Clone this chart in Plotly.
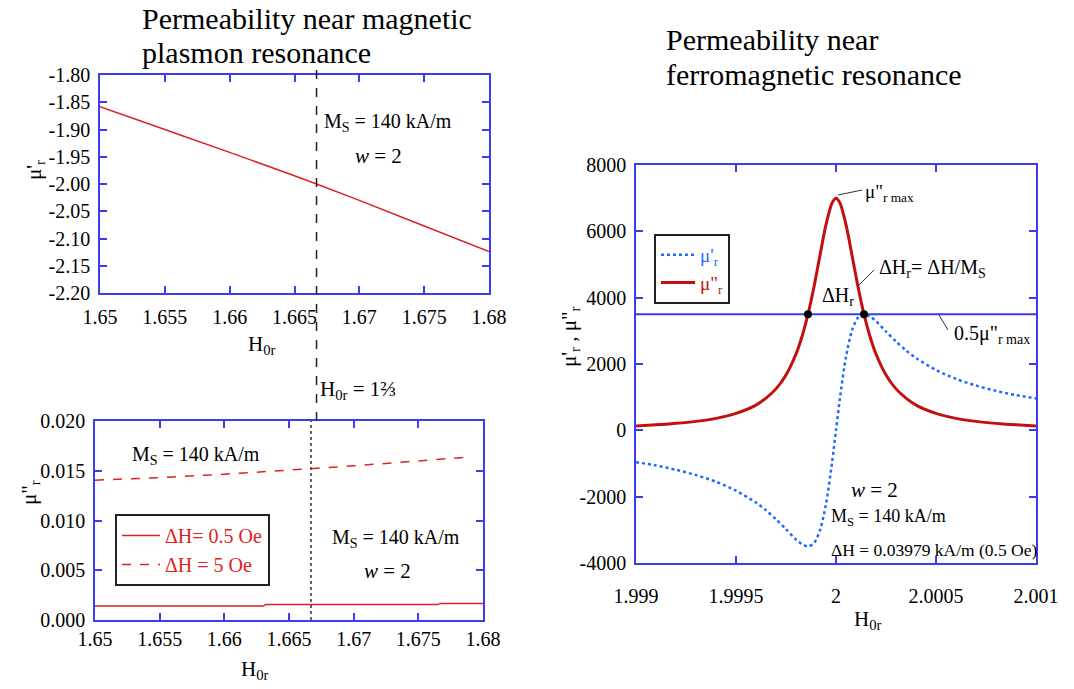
import plotly.graph_objects as go

FONT = "Liberation Serif, Times New Roman, serif"
BLUE = "#3b3bf2"
RED = "#dd2222"
DARKRED = "#c40f0f"
DOTBLUE = "#1f6bff"

# ---------------- data: magnetic plasmon resonance (top-left) ----------------
H_mp = [1.65, 1.655, 1.66, 1.665, 1.6667, 1.67, 1.675, 1.68]
mu_real_mp = [-1.858, -1.900, -1.942, -1.985, -2.000, -2.030, -2.077, -2.124]

# ---------------- data: loss near plasmon resonance (bottom-left) -------------
H_loss5 = [1.65, 1.655, 1.66, 1.665, 1.6667, 1.67, 1.675, 1.679]
mu_imag_5Oe = [0.01405, 0.01431, 0.01465, 0.01505, 0.01522, 0.01549, 0.01599, 0.01639]
H_loss05 = [1.65, 1.663, 1.6632, 1.6765, 1.6767, 1.68]
mu_imag_05Oe = [0.00140, 0.00140, 0.00155, 0.00155, 0.00167, 0.00167]
H0r_res = 1.6667

# ---------------- data: ferromagnetic resonance (right) ----------------------
H_fmr = [1.9990, 1.9991, 1.9992, 1.9993, 1.9994, 1.9995, 1.9996, 1.99965, 1.9997,
         1.99975, 1.9998, 1.99983, 1.99986, 1.99989, 1.99992, 1.99995, 1.99998, 2.0,
         2.00002, 2.00005, 2.00008, 2.00011, 2.00014, 2.00017, 2.0002, 2.00025,
         2.0003, 2.00035, 2.0004, 2.0005, 2.0006, 2.0007, 2.0008, 2.0009, 2.0010]
mu_imag_fmr = [130, 165, 210, 270, 360, 510, 760, 970, 1250, 1670, 2300, 2830, 3500,
               4330, 5280, 6200, 6850, 7000, 6850, 6200, 5280, 4330, 3500, 2830, 2300,
               1670, 1250, 970, 760, 510, 360, 270, 210, 165, 130]
mu_real_fmr = [-960, -1060, -1190, -1350, -1550, -1820, -2180, -2410, -2680, -2980,
               -3290, -3430, -3500, -3400, -3010, -2220, -980, 0, 980, 2220, 3010, 3400,
               3500, 3430, 3290, 2980, 2680, 2410, 2180, 1820, 1550, 1350, 1190, 1060, 960]
H_half = [1.99986, 2.00014]
mu_half = [3500, 3500]
H_span = [1.999, 2.001]

# tick labels
x_mp_ticks = [1.65, 1.655, 1.66, 1.665, 1.67, 1.675, 1.68]
x_mp_text = ["1.65", "1.655", "1.66", "1.665", "1.67", "1.675", "1.68"]
y_mp_ticks = [-2.20, -2.15, -2.10, -2.05, -2.00, -1.95, -1.90, -1.85, -1.80]
y_mp_text = ["-2.20", "-2.15", "-2.10", "-2.05", "-2.00", "-1.95", "-1.90", "-1.85", "-1.80"]
y_loss_ticks = [0.0, 0.005, 0.010, 0.015, 0.020]
y_loss_text = ["0.000", "0.005", "0.010", "0.015", "0.020"]
x_fmr_ticks = [1.999, 1.9995, 2.0, 2.0005, 2.001]
x_fmr_text = ["1.999", "1.9995", "2", "2.0005", "2.001"]
y_fmr_ticks = [-4000, -2000, 0, 2000, 4000, 6000, 8000]
y_fmr_text = ["-4000", "-2000", "0", "2000", "4000", "6000", "8000"]

W, H = 1074, 689
def px(x):
    return x / W
def py(y):
    return 1 - y / H

fig = go.Figure()

fig.add_trace(go.Scatter(x=H_mp, y=mu_real_mp, mode="lines", xaxis="x", yaxis="y",
                         line=dict(color=RED, width=1.5, shape="spline"), showlegend=False))

fig.add_trace(go.Scatter(x=H_loss05, y=mu_imag_05Oe, mode="lines", xaxis="x2", yaxis="y2",
                         name="ΔH= 0.5 Oe", line=dict(color=RED, width=1.5), legend="legend"))
fig.add_trace(go.Scatter(x=H_loss5, y=mu_imag_5Oe, mode="lines", xaxis="x2", yaxis="y2",
                         name="ΔH = 5 Oe", line=dict(color=RED, width=1.5, dash="dash"),
                         legend="legend"))

fig.add_trace(go.Scatter(x=H_span, y=mu_half, mode="lines", xaxis="x3", yaxis="y3",
                         line=dict(color=BLUE, width=2), showlegend=False))
fig.add_trace(go.Scatter(x=H_fmr, y=mu_real_fmr, mode="lines", xaxis="x3", yaxis="y3",
                         name=f"<span style='color:{DOTBLUE}'>μ'<sub>r</sub></span>",
                         line=dict(color=DOTBLUE, width=2.5, dash="dot", shape="spline", smoothing=0.8),
                         legend="legend2"))
fig.add_trace(go.Scatter(x=H_fmr, y=mu_imag_fmr, mode="lines", xaxis="x3", yaxis="y3",
                         name=f"<span style='color:{DARKRED}'>μ\"<sub>r</sub></span>",
                         line=dict(color=DARKRED, width=3, shape="spline", smoothing=0.8),
                         legend="legend2"))
fig.add_trace(go.Scatter(x=H_half, y=mu_half, mode="markers", xaxis="x3", yaxis="y3",
                         marker=dict(color="black", size=8), showlegend=False))

axis_common = dict(showgrid=False, zeroline=False, showline=True, linecolor=BLUE,
                   linewidth=1.5, mirror="ticks", ticks="inside", ticklen=7,
                   tickwidth=1.5, tickcolor=BLUE, automargin=False,
                   tickfont=dict(family=FONT, size=20, color="black"))

fig.update_layout(
    width=W, height=H, margin=dict(l=0, r=0, t=0, b=0, pad=0),
    paper_bgcolor="white", plot_bgcolor="white",
    font=dict(family=FONT, size=18, color="black"),
    xaxis=dict(axis_common, domain=[px(100), px(489)], anchor="y", range=[1.65, 1.68],
               tickvals=x_mp_ticks, ticktext=x_mp_text, ticklabelstandoff=5),
    yaxis=dict(axis_common, domain=[py(293), py(75)], anchor="x", range=[-2.20, -1.80],
               tickvals=y_mp_ticks, ticktext=y_mp_text, ticklabelstandoff=4),
    xaxis2=dict(axis_common, domain=[px(95), px(483)], anchor="y2", range=[1.65, 1.68],
                tickvals=x_mp_ticks, ticktext=x_mp_text, ticklabelstandoff=0),
    yaxis2=dict(axis_common, domain=[py(620), py(421)], anchor="x2", range=[0, 0.020],
                tickvals=y_loss_ticks, ticktext=y_loss_text, ticklabelstandoff=4),
    xaxis3=dict(axis_common, domain=[px(636), px(1036)], anchor="y3", range=[1.999, 2.001],
                tickvals=x_fmr_ticks, ticktext=x_fmr_text, ticklabelstandoff=14),
    yaxis3=dict(axis_common, domain=[py(563), py(165)], anchor="x3", range=[-4000, 8000],
                tickvals=y_fmr_ticks, ticktext=y_fmr_text, ticklabelstandoff=4),
    legend=dict(x=px(115), y=py(514), xanchor="left", yanchor="top",
                bordercolor="#222", borderwidth=2, bgcolor="white",
                font=dict(family=FONT, size=20, color=RED), itemwidth=38,
                tracegroupgap=0),
    legend2=dict(x=px(654), y=py(234), xanchor="left", yanchor="top",
                 bordercolor="#222", borderwidth=2, bgcolor="white",
                 font=dict(family=FONT, size=19), itemwidth=34),
)

shapes = [
    dict(type="line", xref="x", yref="paper", x0=H0r_res, x1=H0r_res, y0=py(421), y1=py(66),
         line=dict(color="#222", width=1.5, dash="dash")),
    dict(type="line", xref="x2", yref="y2", x0=H0r_res, x1=H0r_res, y0=0, y1=0.020,
         line=dict(color="#333", width=1.5, dash="dot")),
    dict(type="line", xref="paper", yref="paper", x0=px(838), y0=py(195), x1=px(862), y1=py(190),
         line=dict(color="#333", width=1)),
    dict(type="line", xref="paper", yref="paper", x0=px(857), y0=py(287), x1=px(874), y1=py(270),
         line=dict(color="#333", width=1)),
    dict(type="line", xref="paper", yref="paper", x0=px(939), y0=py(315), x1=px(948), y1=py(330),
         line=dict(color="#333", width=1)),
]
fig.update_layout(shapes=shapes)

def ann(text, x, y, size=18, xanchor="left", yanchor="middle", angle=0, color="black"):
    fig.add_annotation(text=text, x=px(x), y=py(y), xref="paper", yref="paper",
                       xanchor=xanchor, yanchor=yanchor, showarrow=False, textangle=angle,
                       font=dict(family=FONT, size=size, color=color))

ann("Permeability near magnetic", 140, 18, size=30)
ann("plasmon resonance", 140, 53, size=30)
ann("Permeability near", 664, 40, size=30)
ann("ferromagnetic resonance", 664, 74, size=30)

ann("M<sub>S</sub> = 140 kA/m", 322, 122, size=20)
ann("<i>w</i> = 2", 353, 156, size=21)
ann("μ'<sub>r</sub>", 35, 170, size=21, xanchor="center", angle=-90)
ann("H<sub>0r</sub>", 262, 345, size=21, xanchor="center")
ann("H<sub>0r</sub> = 1⅔", 318, 390, size=21)

ann("M<sub>S</sub> = 140 kA/m", 130, 455, size=20)
ann("M<sub>S</sub> = 140 kA/m", 330, 538, size=20)
ann("<i>w</i> = 2", 362, 571, size=21)
ann("μ\"<sub>r</sub>", 30, 492, size=21, xanchor="center", angle=-90)
ann("H<sub>0r</sub>", 255, 670, size=21, xanchor="center")

ann("μ\"<sub>r max</sub>", 863, 193, size=19)
ann("ΔH<sub>r</sub>= ΔH/M<sub>S</sub>", 877, 268, size=20)
ann("ΔH<sub>r</sub>", 820, 296, size=20)
ann("0.5μ\"<sub>r max</sub>", 952, 334, size=20)
ann("<i>w</i> = 2", 849, 490, size=21)
ann("M<sub>S</sub> = 140 kA/m", 829, 517, size=18)
ann("ΔH = 0.03979 kA/m (0.5 Oe)", 829, 550, size=17.5)
ann("μ'<sub>r</sub> , μ\"<sub>r</sub>", 570, 337, size=21, xanchor="center", angle=-90)
ann("H<sub>0r</sub>", 868, 620, size=21, xanchor="center")

fig.write_html("out.html")
